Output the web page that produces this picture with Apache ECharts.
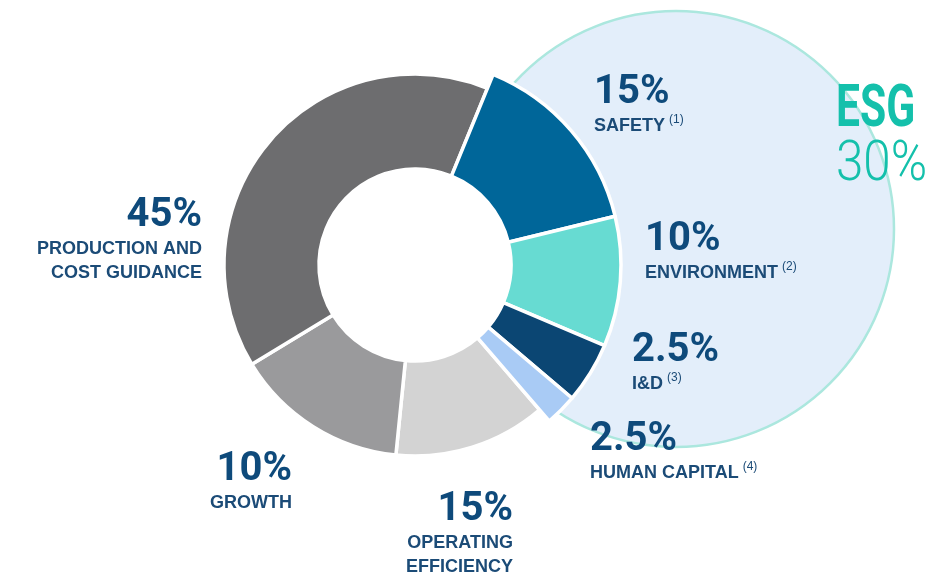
<!DOCTYPE html>
<html><head><meta charset="utf-8">
<script src="https://cdn.jsdelivr.net/npm/echarts@6/dist/echarts.min.js"></script>
<style>html,body{margin:0;padding:0;background:#fff}#c{width:946px;height:573px}</style>
</head><body><div id="c"></div>
<script>
// ---- data ----
const categories = ['SAFETY', 'ENVIRONMENT', 'I&D', 'HUMAN CAPITAL', 'OPERATING\nEFFICIENCY', 'GROWTH', 'PRODUCTION AND\nCOST GUIDANCE'];
const footnotes = ['(1)', '(2)', '(3)', '(4)', '', '', ''];
const labelPercents = ['15%', '10%', '2.5%', '2.5%', '15%', '10%', '45%'];
// slice shares as drawn in the picture (the artwork is not drawn exactly to scale)
const sliceShares = [15.0, 10.2, 4.8, 2.5, 12.9, 14.7, 39.9];
const esgFlags = [true, true, true, true, false, false, false];
const esgTitle = 'ESG';
const esgPercent = '30%';

// ---- styling / layout ----
const colors = ['#006699', '#67dbd2', '#0b4673', '#a9cbf5', '#d3d3d3', '#9a9a9c', '#6d6d6f'];
const C = [415, 265];
const labelPos = [[594, 72, 'left'], [645, 219, 'left'], [632, 330, 'left'], [590, 419, 'left'],
                  [513, 489, 'right'], [292, 449, 'right'], [202, 195, 'right']];
const navy = '#0e4a7b';
const nameColor = '#1b4b77';
const pctFont = 'Roboto,"Liberation Sans",sans-serif';
const sans = '"Liberation Sans",Arial,sans-serif';
const teal = '#14c0ab';

const esgTotal = labelPercents.reduce((s, p, i) => s + (esgFlags[i] ? parseFloat(p) : 0), 0);

function fmt(p) {
  const i = p.dataIndex;
  const lines = categories[i].split('\n');
  const nameLines = lines.map((l, k) => '{name|' + l + '}' + (k === lines.length - 1 && footnotes[i] ? '{sup|' + footnotes[i] + '}' : ''));
  return '{pct|' + labelPercents[i] + '}\n' + nameLines.join('\n');
}

const chart = echarts.init(document.getElementById('c'), null, {renderer: 'canvas'});
chart.setOption({
  animation: false,
  backgroundColor: '#fff',
  graphic: [
    {type: 'circle', z: 1, silent: true, shape: {cx: C[0], cy: C[1], r: 96}, style: {fill: '#fff'}},
    {type: 'text', z: 10, x: 836, y: 81, scaleX: 0.71, silent: true,
     style: {text: esgTitle, font: 'bold 60px ' + pctFont, fill: teal, verticalAlign: 'top', textVerticalAlign: 'top'}},
    {type: 'text', z: 10, x: 836, y: 138, scaleX: 0.88, silent: true,
     style: {text: esgPercent, font: '300 56px ' + pctFont, fill: teal, verticalAlign: 'top', textVerticalAlign: 'top'}}
  ],
  series: [
    {
      type: 'pie', z: 0, silent: true, center: [676, 229], radius: [0, 218],
      data: [{name: esgTitle, value: esgTotal}],
      label: {show: false}, labelLine: {show: false},
      itemStyle: {color: '#e3eefa', borderColor: '#abe7de', borderWidth: 2.5}
    },
    {
      type: 'pie', z: 2, silent: true, center: C, radius: [96, 191], startAngle: 67.7, clockwise: true,
      avoidLabelOverlap: false,
      data: categories.map((c, i) => ({
        name: c, value: sliceShares[i],
        itemStyle: esgFlags[i] ? {color: 'rgba(0,0,0,0)', borderWidth: 0}
                               : {color: colors[i], borderColor: '#fff', borderWidth: 3.5}
      })),
      label: {
        show: true, position: 'outside', formatter: fmt,
        rich: {
          pct: {fontFamily: pctFont, fontWeight: 'bold', fontSize: 40, lineHeight: 42, color: navy},
          name: {fontFamily: sans, fontWeight: 'bold', fontSize: 18, lineHeight: 24, color: nameColor},
          sup: {fontFamily: sans, fontSize: 12, lineHeight: 24, verticalAlign: 'top', color: nameColor, padding: [0, 0, 0, 4]}
        }
      },
      labelLine: {show: false},
      labelLayout: function (p) {
        const q = labelPos[p.dataIndex];
        return {x: q[0], y: q[1], align: q[2], verticalAlign: 'top'};
      },
      emphasis: {disabled: true}
    },
    {
      type: 'pie', z: 3, silent: true, center: C, radius: [96, 206], startAngle: 67.7, clockwise: true,
      data: categories.map((c, i) => ({
        name: c, value: sliceShares[i],
        itemStyle: esgFlags[i] ? {color: colors[i], borderColor: '#fff', borderWidth: 3.5}
                               : {color: 'rgba(0,0,0,0)', borderWidth: 0}
      })),
      label: {show: false}, labelLine: {show: false},
      emphasis: {disabled: true}
    }
  ]
});
</script></body></html>
